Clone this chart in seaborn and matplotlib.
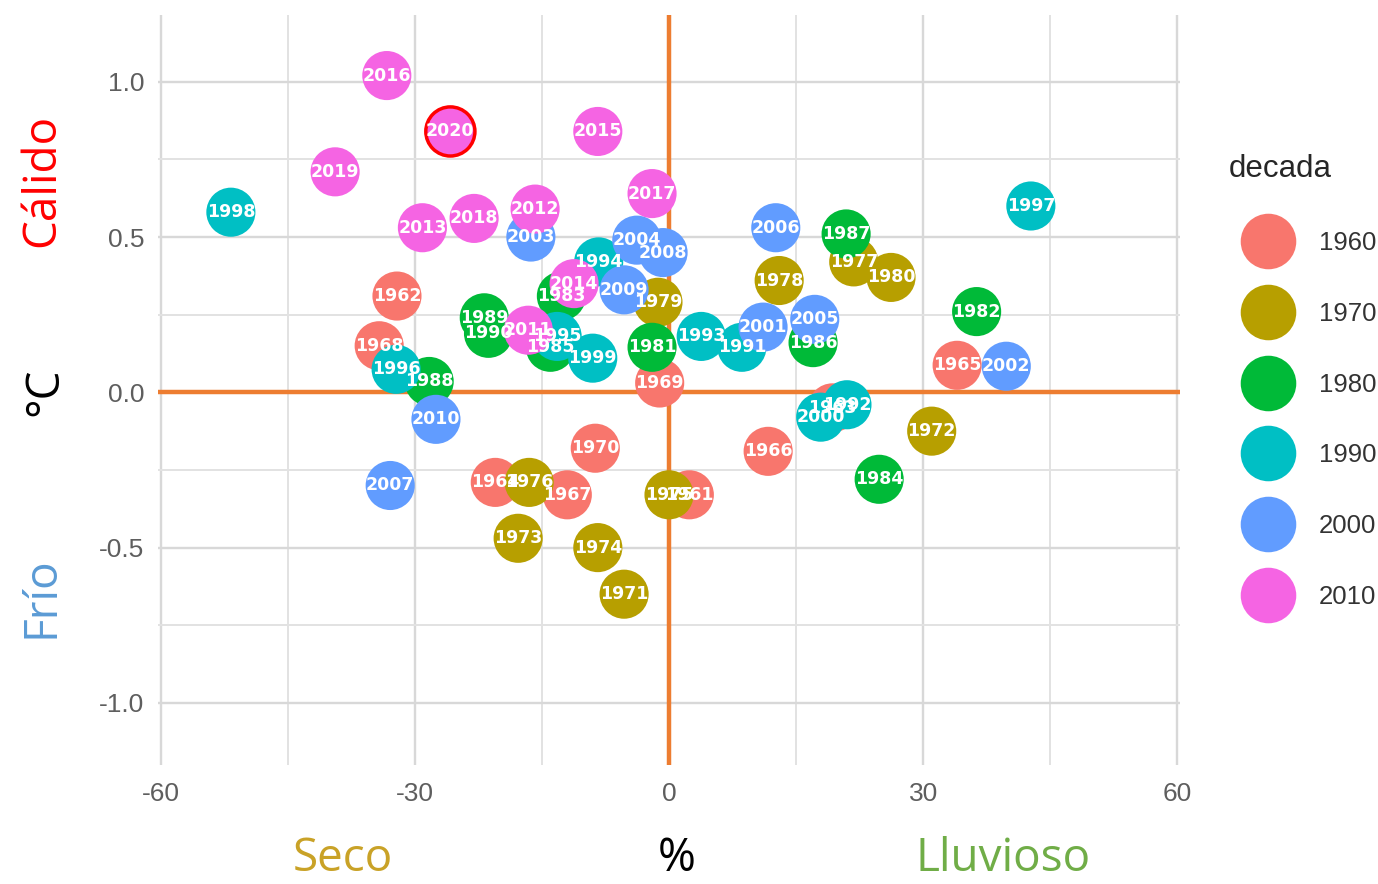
import pandas as pd
import matplotlib.pyplot as plt
import seaborn as sns
from matplotlib.lines import Line2D

# precipitation anomaly (%) and temperature anomaly (degC) per year
years = list(range(1961, 2021))
precip = [2.4, -32.1, 19.3, -20.5, 34.0, 11.7, -12.0, -34.2, -1.1, -8.7,
          -5.3, 31.0, -17.8, -8.4, 0.0, -16.5, 21.8, 13.0, -1.3, 26.2,
          -2.0, 36.3, -12.7, 24.8, -14.0, 17.0, 20.9, -28.3, -21.8, -21.3,
          8.6, 21.0, 3.8, -8.3, -13.2, -32.2, 42.7, -51.7, -9.0, 17.9,
          11.1, 39.8, -16.3, -3.8, 17.2, 12.6, -32.9, -0.7, -5.3, -27.5,
          -16.6, -15.8, -29.1, -11.2, -8.4, -33.3, -2.0, -23.0, -39.4, -25.8]
temp = [-0.33, 0.31, -0.05, -0.29, 0.087, -0.19, -0.33, 0.15, 0.03, -0.18,
        -0.65, -0.125, -0.47, -0.50, -0.33, -0.29, 0.42, 0.36, 0.29, 0.37,
        0.145, 0.26, 0.31, -0.28, 0.145, 0.16, 0.51, 0.035, 0.24, 0.19,
        0.145, -0.04, 0.18, 0.42, 0.18, 0.074, 0.60, 0.58, 0.11, -0.08,
        0.21, 0.084, 0.50, 0.49, 0.235, 0.53, -0.30, 0.45, 0.33, -0.087,
        0.20, 0.59, 0.53, 0.35, 0.84, 1.02, 0.64, 0.56, 0.71, 0.84]
decades = ['1960', '1970', '1980', '1990', '2000', '2010']
palette = ['#F8766D', '#B79F00', '#00BA38', '#00BFC4', '#619CFF', '#F564E3']
highlight_year = 2020

df = pd.DataFrame({'anio': years, 'precip': precip, 'temp': temp})
df['decada'] = ((df['anio'] - 1) // 10 * 10).astype(str)

sns.set_style('white')
plt.rcParams['font.family'] = ['Liberation Sans', 'DejaVu Sans']
plt.rcParams['axes.unicode_minus'] = False

fig = plt.figure(figsize=(13.78, 8.84), dpi=100)
ax = fig.add_axes([158 / 1378, 1 - 765 / 884, 1022 / 1378, 750 / 884])

# grid
ax.set_xticks([-60, -30, 0, 30, 60])
ax.set_xticks([-45, -15, 15, 45], minor=True)
ax.set_yticks([-1.0, -0.5, 0.0, 0.5, 1.0])
ax.set_yticks([-0.75, -0.25, 0.25, 0.75], minor=True)
ax.grid(which='major', color='#D8D8D8', linewidth=1.7)
ax.grid(which='minor', color='#E2E2E2', linewidth=1.4)
ax.set_axisbelow(True)

# quadrant lines
ax.axhline(0, color='#ED7D31', linewidth=3.2, zorder=1)
ax.axvline(0, color='#ED7D31', linewidth=3.2, zorder=1)

sns.scatterplot(data=df, x='precip', y='temp', hue='decada', hue_order=decades,
                palette=palette, s=1250, linewidth=0, alpha=1, ax=ax, legend=False, zorder=3)

hl = df[df['anio'] == highlight_year]
ax.scatter(hl['precip'], hl['temp'], s=1250, facecolors='none', edgecolors='#FF0000',
           linewidths=2.5, zorder=4)

for _, r in df.iterrows():
    ax.text(r['precip'], r['temp'], str(r['anio']), color='white', fontsize=12.5,
            fontweight='bold', family='DejaVu Sans', ha='center', va='center', zorder=5)

ax.set_xlim(-60.3, 60.3)
ax.set_ylim(-1.2, 1.215)
ax.set_yticklabels(['-1.0', '-0.5', '0.0', '0.5', '1.0'])
ax.tick_params(axis='both', length=0, labelsize=19, labelcolor='#5E5E5E')
ax.tick_params(axis='x', pad=12)
ax.tick_params(axis='y', pad=10)
for sp in ax.spines.values():
    sp.set_visible(False)
ax.set_xlabel('')
ax.set_ylabel('')

# legend
handles = [Line2D([0], [0], marker='o', linestyle='', markersize=40,
                  markerfacecolor=c, markeredgewidth=0) for c in palette]
leg = ax.legend(handles, decades, title='decada', loc='upper left',
                bbox_to_anchor=(1218 / 1378, 1 - 144 / 884), bbox_transform=fig.transFigure,
                frameon=False, fontsize=18.5, title_fontsize=22.5, labelspacing=1.82,
                handlelength=3.1, handletextpad=0.42, borderaxespad=0)
leg._legend_box.align = 'left'
for t in leg.get_texts():
    t.set_color('#333333')

# quadrant captions
cap = dict(family=['Open Sans', 'DejaVu Sans'], fontsize=33, ha='center', va='center')
fig.text(42 / 1378, 1 - 180 / 884, 'Cálido', color='#FF0000', rotation=90, **cap)
fig.text(45 / 1378, 1 - 392 / 884, '°C', color='black', rotation=90, **cap)
fig.text(42 / 1378, 1 - 597 / 884, 'Frío', color='#5B9BD5', rotation=90, **cap)
fig.text(343 / 1378, 1 - 859 / 884, 'Seco', color='#C9A227', **cap)
fig.text(677 / 1378, 1 - 859 / 884, '%', color='black', **cap)
fig.text(1003 / 1378, 1 - 859 / 884, 'Lluvioso', color='#70AD47', **cap)

fig.savefig('out.png', dpi=100)
